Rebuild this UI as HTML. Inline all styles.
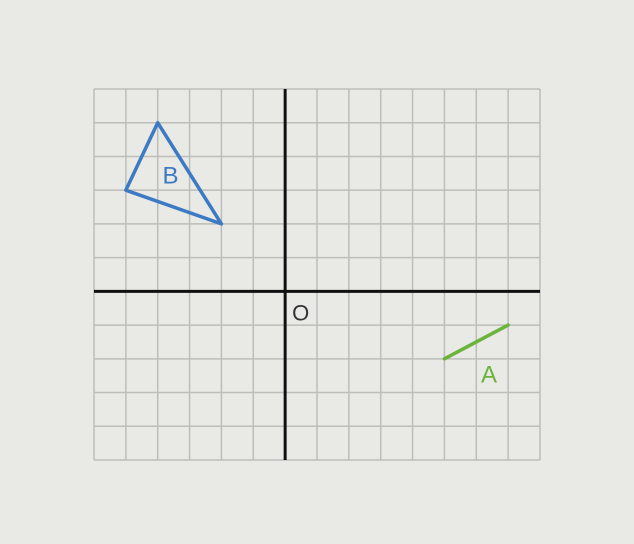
<!DOCTYPE html>
<html><head><meta charset="utf-8"><style>
html,body{margin:0;padding:0;background:#e9e9e5;}
svg{display:block;}
</style></head><body>
<svg id="chart" width="634" height="544" xmlns="http://www.w3.org/2000/svg">
<rect width="634" height="544" fill="#e9e9e5"/>
<g id="grid"></g>
<g id="axes"></g>
<g id="shapes"></g>
</svg>
<script>
const xRange = [-6, 8];
const yRange = [-5, 6];
const shapeBX = [-4, -5, -2];
const shapeBY = [5, 3, 2];
const segAX = [5, 7];
const segAY = [-2, -1];
const labelB = ["B", -3.6, 3.2];
const labelA = ["A", 6.4, -2.7];

const NS = "http://www.w3.org/2000/svg";
const X0 = 94, X1 = 540, Y0 = 460, Y1 = 89;
function sx(u){ return X0 + (u - xRange[0]) / (xRange[1] - xRange[0]) * (X1 - X0); }
function sy(v){ return Y0 - (v - yRange[0]) / (yRange[1] - yRange[0]) * (Y0 - Y1); }
function mk(tag, attrs, parent){ const e = document.createElementNS(NS, tag); for (const k in attrs) e.setAttribute(k, attrs[k]); parent.appendChild(e); return e; }

const grid = document.getElementById('grid');
for (let u = xRange[0]; u <= xRange[1]; u++) {
  const l = mk('line', {x1: sx(u), x2: sx(u), y1: Y1, y2: Y0, stroke: '#bdbdb9', 'stroke-width': 1.5}, grid);
  
  
}
for (let v = yRange[0]; v <= yRange[1]; v++) {
  const l = mk('line', {x1: X0, x2: X1, y1: sy(v), y2: sy(v), stroke: '#bdbdb9', 'stroke-width': 1.5}, grid);
  
  
}
const axes = document.getElementById('axes');
const xa = mk('line', {x1: X0, x2: X1, y1: sy(0), y2: sy(0), stroke: '#111', 'stroke-width': 3}, axes);


const ya = mk('line', {x1: sx(0), x2: sx(0), y1: Y1, y2: Y0, stroke: '#111', 'stroke-width': 3}, axes);


const o = mk('text', {x: sx(0) + 7, y: sy(0) + 29, 'font-family': 'Liberation Sans, sans-serif', 'font-size': 22, fill: '#333', 'textLength': 16}, axes);
o.textContent = 'O';



const shapes = document.getElementById('shapes');
const pts = shapeBX.map((u, i) => sx(u) + ',' + sy(shapeBY[i])).join(' ');
const tri = mk('polygon', {points: pts, fill: 'none', stroke: '#3c7ac4', 'stroke-width': 3.5, 'stroke-linejoin': 'round'}, shapes);


const tb = mk('text', {x: sx(labelB[1]), y: sy(labelB[2]), 'font-family': 'Liberation Sans, sans-serif', 'font-size': 24, fill: '#3c7ac4', 'text-anchor': 'middle'}, shapes);
tb.textContent = labelB[0];


const seg = mk('line', {x1: sx(segAX[0]), y1: sy(segAY[0]), x2: sx(segAX[1]), y2: sy(segAY[1]), stroke: '#6ab43c', 'stroke-width': 3.5, 'stroke-linecap': 'round'}, shapes);


const ta = mk('text', {x: sx(labelA[1]), y: sy(labelA[2]), 'font-family': 'Liberation Sans, sans-serif', 'font-size': 24, fill: '#6ab43c', 'text-anchor': 'middle'}, shapes);
ta.textContent = labelA[0];


</script>
</body></html>
